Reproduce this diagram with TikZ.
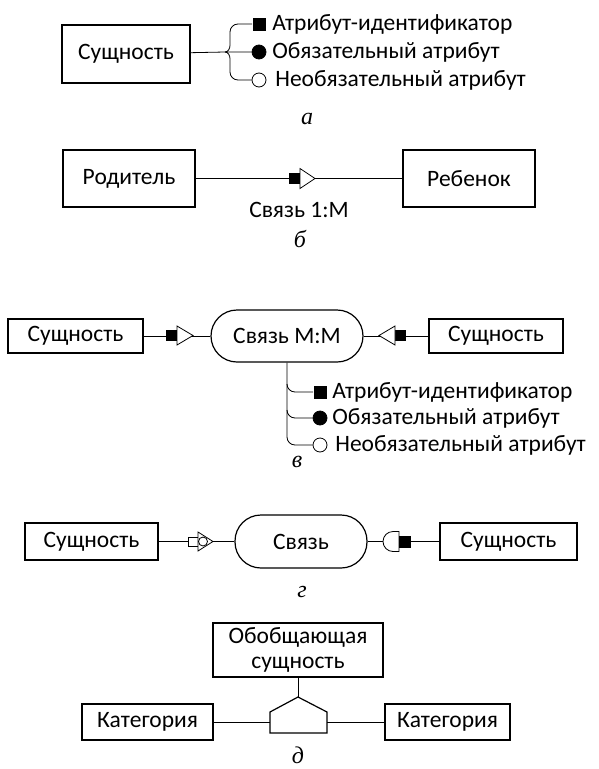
\documentclass[tikz,border=0pt]{standalone}
\usepackage{fontspec}
\setmainfont{Carlito}
\newfontfamily\capfont{Liberation Serif}
\usetikzlibrary{positioning}

\tikzset{
  txt/.style={font=\fontsize{23.5}{25}\selectfont},
  ent/.style={txt, draw, line width=1.2pt, inner sep=0pt},
  rel/.style={txt, draw, line width=1.2pt, inner sep=0pt, rounded corners=26pt},
  attr/.style={txt, anchor=west, inner sep=1pt},
  idmark/.style={fill=black, minimum size=13pt, inner sep=0pt},
  reqmark/.style={circle, draw, fill=black, minimum size=14pt, inner sep=0pt},
  optmark/.style={circle, draw, fill=white, minimum size=14pt, inner sep=0pt},
  caption/.style={font=\capfont\itshape\fontsize{24}{26}\selectfont, inner sep=0pt},
}

\begin{document}
\begin{tikzpicture}[x=1pt, y=-1pt, line width=0.8pt]
  \useasboundingbox (0,0) rectangle (599,769);

  % a
  \node[ent, minimum width=128pt, minimum height=58pt] (entA) at (126,54) {Сущность};
  \coordinate (brA) at (225,52);
  \foreach \n/\y/\s/\t/\dx in {idA/24/idmark/Атрибут-идентификатор/0, reqA/52/reqmark/Обязательный атрибут/0, optA/80/optmark/Необязательный атрибут/3}
  {
    \node[\s] (\n) at (259,\y) {};
    \node[attr] (\n t) at (271+\dx,\y) {\t};
  }
  \draw (entA) -- (brA) -- (reqA);
  \draw (idA.west) -- (238,24) to[out=180,in=90] (230,32) -- (230,45) to[out=-90,in=0] (brA);
  \draw (optA.west) -- (238,80) to[out=180,in=-90] (230,72) -- (230,59) to[out=90,in=0] (brA);
  \node[caption] (capA) at (307,119) {а};

  % b
  \node[ent, minimum width=132pt, minimum height=57pt] (par) at (129,178.5) {Родитель};
  \node[ent, minimum width=132pt, minimum height=57pt] (chld) at (469,178.5) {Ребенок};
  \draw (par) -- (chld);
  \fill (289,173) rectangle (300,184);
  \filldraw[fill=white] (300,168.5) -- (315,178.5) -- (300,188.5) -- cycle;
  \node[txt] (relB) at (299,210) {Связь 1:М};
  \node[caption] (capB) at (300,239) {б};

  % c
  \node[ent, minimum width=135pt, minimum height=34pt] (entCL) at (75.5,336) {Сущность};
  \node[ent, minimum width=134pt, minimum height=34pt] (entCR) at (496,336) {Сущность};
  \node[rel, minimum width=152pt, minimum height=52pt] (relMM) at (287,336) {Связь М:М};
  \draw (entCL) -- (relMM) -- (entCR);
  \fill (166,330) rectangle (177,341);
  \filldraw[fill=white] (177,326) -- (193,335.5) -- (177,345) -- cycle;
  \fill (395,330) rectangle (406,341);
  \filldraw[fill=white] (395,326) -- (379,335.5) -- (395,345) -- cycle;
  \foreach \n/\y/\s/\t/\dx in {idC/392/idmark/Атрибут-идентификатор/0, reqC/418/reqmark/Обязательный атрибут/0, optC/445/optmark/Необязательный атрибут/3}
  {
    \node[\s] (\n) at (320,\y) {};
    \node[attr] (\n t) at (331+\dx,\y) {\t};
  }
  \draw (relMM.south) -- (287,437) to[out=-90,in=180] (295,445) -- (optC.west);
  \draw (287,384) to[out=-90,in=180] (295,392) -- (idC.west);
  \draw (287,410) to[out=-90,in=180] (295,418) -- (reqC.west);
  \node[caption] (capC) at (297,462) {в};

  % d
  \node[ent, minimum width=133pt, minimum height=37pt] (entDL) at (91.5,541.5) {Сущность};
  \node[ent, minimum width=137pt, minimum height=37pt] (entDR) at (508.5,541.5) {Сущность};
  \node[rel, minimum width=132pt, minimum height=53pt] (relD) at (301,541.5) {Связь};
  \draw (entDL) -- (relD) -- (entDR);
  \filldraw[fill=white] (188,537) rectangle (198,546);
  \filldraw[fill=white] (198,532) -- (213,541.5) -- (198,551) -- cycle;
  \draw (203,541.5) circle (4.5);
  \filldraw[fill=white] (399,531.5) -- (393,531.5) arc[start angle=90, end angle=270, radius=10pt] -- (399,551.5) -- cycle;
  \fill (399,535.5) rectangle (411,547.5);
  \node[caption] (capD) at (302,592) {г};

  % e
  \node[ent, minimum width=170pt, minimum height=54pt, align=center] (gen) at (298,650) {Обобщающая\\сущность};
  \node[ent, minimum width=131pt, minimum height=36pt] (catL) at (147.5,722) {Категория};
  \node[ent, minimum width=125pt, minimum height=36pt] (catR) at (447.5,722) {Категория};
  \coordinate (gTop) at (298,697);
  \coordinate (gL) at (270,722);
  \coordinate (gR) at (327,722);
  \draw (gen) -- (gTop);
  \draw (catL) -- (gL);
  \draw (gR) -- (catR);
  \draw[line width=1.2pt] (270,733) -- (270,712) -- (gTop) -- (327,712) -- (327,733) -- cycle;
  \node[caption] (capE) at (298,755) {д};
\end{tikzpicture}
\end{document}
